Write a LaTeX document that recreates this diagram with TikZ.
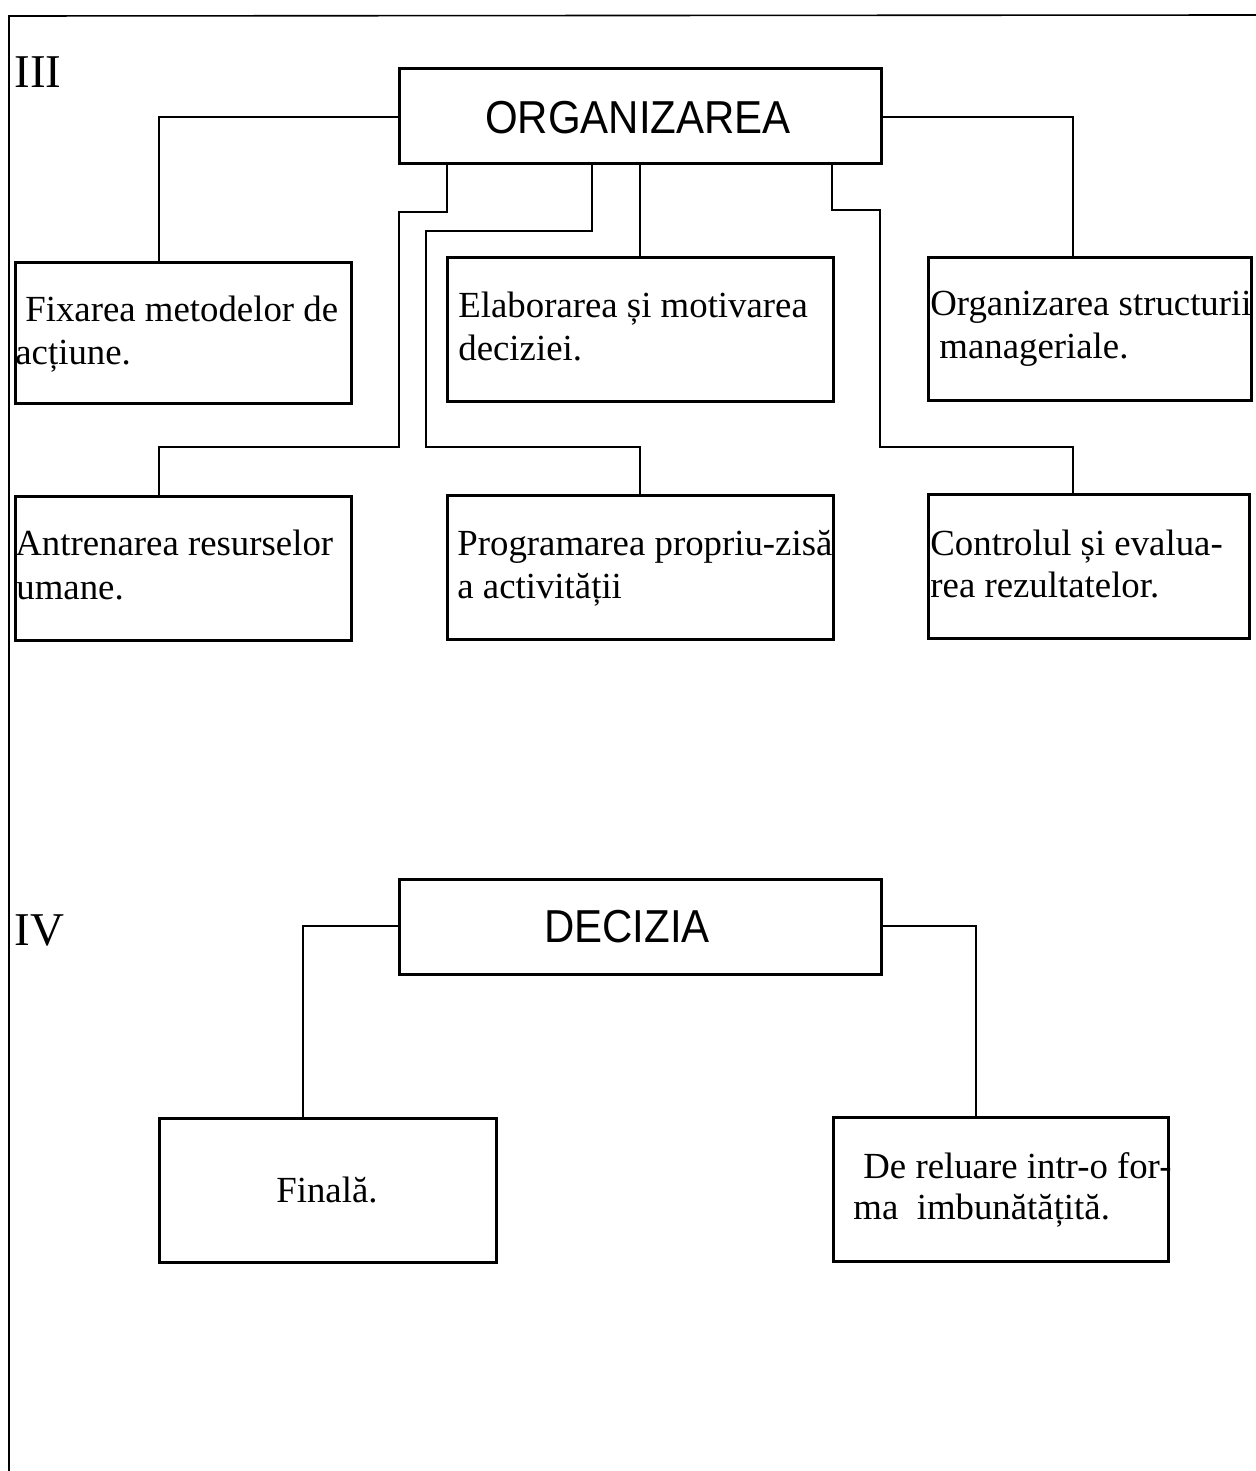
\documentclass[tikz,border=0pt]{standalone}
\usepackage{fontspec}
\setmainfont{Liberation Serif}
\setsansfont{Liberation Sans}
\usetikzlibrary{fit,calc}
\begin{document}
\begin{tikzpicture}[x=0.5pt,y=-0.5pt,
  box/.style={draw, line width=1.5pt, inner sep=0pt},
  conn/.style={line width=1.3pt},
  frameline/.style={line width=0.8pt},
  txt/.style={inner sep=0pt, anchor=base west, font=\fontsize{18.4}{22}\selectfont},
  head/.style={inner sep=0pt, font=\sffamily\fontsize{21}{25}\selectfont, yscale=1.1},
  roman/.style={inner sep=0pt, anchor=base west, font=\fontsize{23.5}{28}\selectfont}]
\useasboundingbox (0,0) rectangle (1256,1471);
% page frame
\coordinate (ftl) at (9,16);
\coordinate (ftr) at (1256,15);
\coordinate (fbl) at (9,1471);
\draw[frameline] (ftr) -- (ftl) -- (fbl);

% section III
\node[roman] (r3) at (14,88) {III};
\node[box, fit={(399,69) (881,164)}] (org) {};
\node[head] (orgt) at (638,118) {ORGANIZAREA};

\node[box, fit={(15,262) (351,403)}] (A) {};
\node[box, fit={(447,257) (833,401)}] (B) {};
\node[box, fit={(928,257) (1251,400)}] (C) {};
\node[box, fit={(15,496) (351,640)}] (D) {};
\node[box, fit={(447,495) (833,639)}] (E) {};
\node[box, fit={(928,494) (1249,638)}] (F) {};

\node[txt] (a1) at (25,321) {Fixarea metodelor de};
\node[txt] (a2) at (15,364) {acțiune.};
\node[txt] (b1) at (458,317) {Elaborarea și motivarea};
\node[txt] (b2) at (458,360) {deciziei.};
\node[txt] (c1) at (930,315) {Organizarea structurii};
\node[txt] (c2) at (939,358) {manageriale.};
\node[txt] (d1) at (15,555) {Antrenarea resurselor};
\node[txt] (d2) at (16,599) {umane.};
\node[txt] (e1) at (457,555) {Programarea propriu-zisă};
\node[txt] (e2) at (457,598) {a activității};
\node[txt] (f1) at (930,555) {Controlul și evalua-};
\node[txt] (f2) at (930,597) {rea rezultatelor.};

% connector bend points
\coordinate (kA) at (159,117);
\coordinate (kC) at (1073,117);
\coordinate (kD1) at (447,212);
\coordinate (kD2) at (399,212);
\coordinate (kD3) at (399,447);
\coordinate (kD4) at (159,447);
\coordinate (kE1) at (592,231);
\coordinate (kE2) at (426,231);
\coordinate (kE3) at (426,447);
\coordinate (kE4) at (640,447);
\coordinate (kF1) at (832,210);
\coordinate (kF2) at (880,210);
\coordinate (kF3) at (880,447);
\coordinate (kF4) at (1073,447);

\draw[conn] (org.west |- kA) -- (kA) -- (kA |- A.north);
\draw[conn] (org.east |- kC) -- (kC) -- (kC |- C.north);
\draw[conn] (org.south -| B.north) -- (B.north);
\draw[conn] (org.south -| kD1) -- (kD1) -- (kD2) -- (kD3) -- (kD4) -- (kD4 |- D.north);
\draw[conn] (org.south -| kE1) -- (kE1) -- (kE2) -- (kE3) -- (kE4) -- (kE4 |- E.north);
\draw[conn] (org.south -| kF1) -- (kF1) -- (kF2) -- (kF3) -- (kF4) -- (kF4 |- F.north);

% section IV
\node[roman] (r4) at (14,945) {IV};
\node[box, fit={(399,879) (881,974)}] (dec) {};
\node[head] (dect) at (627,927) {DECIZIA};
\node[box, fit={(159,1118) (496,1262)}] (G) {};
\node[box, fit={(833,1117) (1168,1261)}] (H) {};
\node[txt] (g1) at (276,1202) {Finală.};
\node[txt] (h1) at (863,1178) {De reluare intr-o for-};
\node[txt] (h2) at (853,1219) {ma\ \ imbunătățită.};

\coordinate (kG) at (303,926);
\coordinate (kH) at (976,926);
\draw[conn] (dec.west |- kG) -- (kG) -- (kG |- G.north);
\draw[conn] (dec.east |- kH) -- (kH) -- (kH |- H.north);
\end{tikzpicture}
\end{document}
